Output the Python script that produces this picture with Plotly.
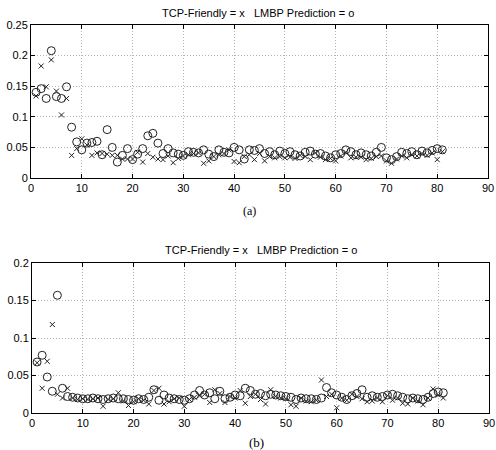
import plotly.graph_objects as go

x_idx = list(range(1, 82))

# Panel (a)
a_tcp = [0.134, 0.183, 0.149, 0.193, 0.142, 0.103, 0.130, 0.037, 0.048, 0.064,
         0.054, 0.037, 0.041, 0.040, 0.039, 0.037, 0.037, 0.031, 0.031, 0.031,
         0.042, 0.026, 0.040, 0.034, 0.031, 0.030, 0.036, 0.025, 0.032, 0.036,
         0.038, 0.040, 0.041, 0.024, 0.028, 0.035, 0.038, 0.040, 0.046, 0.027,
         0.025, 0.035, 0.038, 0.030, 0.040, 0.028, 0.035, 0.033, 0.035, 0.033,
         0.034, 0.032, 0.037, 0.035, 0.030, 0.041, 0.034, 0.030, 0.032, 0.028,
         0.036, 0.042, 0.033, 0.034, 0.034, 0.030, 0.032, 0.035, 0.036, 0.028,
         0.024, 0.031, 0.036, 0.033, 0.038, 0.036, 0.040, 0.037, 0.041, 0.030,
         0.043]
a_lmbp = [0.140, 0.146, 0.130, 0.208, 0.133, 0.130, 0.149, 0.083, 0.059, 0.046,
          0.057, 0.058, 0.060, 0.038, 0.079, 0.050, 0.026, 0.037, 0.048, 0.030,
          0.039, 0.048, 0.069, 0.073, 0.057, 0.040, 0.048, 0.041, 0.039, 0.037,
          0.043, 0.042, 0.041, 0.046, 0.039, 0.035, 0.046, 0.042, 0.041, 0.050,
          0.046, 0.031, 0.046, 0.045, 0.048, 0.040, 0.043, 0.038, 0.044, 0.040,
          0.043, 0.038, 0.036, 0.042, 0.044, 0.039, 0.040, 0.036, 0.033, 0.038,
          0.040, 0.046, 0.043, 0.038, 0.041, 0.038, 0.036, 0.042, 0.050, 0.033,
          0.030, 0.035, 0.042, 0.040, 0.043, 0.038, 0.044, 0.041, 0.045, 0.048,
          0.046]

# Panel (b)
b_tcp = [0.067, 0.033, 0.069, 0.118, 0.025, 0.020, 0.033, 0.020, 0.018, 0.019,
         0.018, 0.019, 0.020, 0.009, 0.018, 0.019, 0.027, 0.016, 0.010, 0.015,
         0.019, 0.017, 0.012, 0.030, 0.033, 0.012, 0.015, 0.019, 0.020, 0.009,
         0.018, 0.021, 0.023, 0.025, 0.014, 0.031, 0.026, 0.014, 0.022, 0.020,
         0.030, 0.013, 0.022, 0.025, 0.018, 0.012, 0.031, 0.022, 0.020, 0.019,
         0.011, 0.009, 0.020, 0.016, 0.015, 0.017, 0.044, 0.022, 0.025, 0.007,
         0.020, 0.017, 0.025, 0.022, 0.019, 0.015, 0.016, 0.020, 0.015, 0.023,
         0.017, 0.020, 0.013, 0.012, 0.020, 0.016, 0.011, 0.020, 0.032, 0.024,
         0.020]
b_lmbp = [0.068, 0.077, 0.048, 0.029, 0.157, 0.033, 0.022, 0.021, 0.020, 0.019,
          0.019, 0.020, 0.019, 0.018, 0.019, 0.020, 0.019, 0.019, 0.018, 0.017,
          0.019, 0.018, 0.021, 0.031, 0.017, 0.024, 0.020, 0.019, 0.018, 0.017,
          0.019, 0.024, 0.030, 0.024, 0.027, 0.019, 0.029, 0.019, 0.021, 0.024,
          0.023, 0.033, 0.030, 0.025, 0.026, 0.023, 0.025, 0.024, 0.023, 0.022,
          0.021, 0.018, 0.020, 0.019, 0.019, 0.018, 0.020, 0.034, 0.027, 0.024,
          0.021, 0.018, 0.023, 0.026, 0.031, 0.021, 0.023, 0.021, 0.022, 0.024,
          0.025, 0.023, 0.021, 0.019, 0.020, 0.019, 0.018, 0.021, 0.026, 0.028,
          0.027]

x_ticks = list(range(0, 91, 10))
a_yticks = [0, 0.05, 0.1, 0.15, 0.2, 0.25]
a_ylabels = ["0", "0.05", "0.1", "0.15", "0.2", "0.25"]
b_yticks = [0, 0.05, 0.1, 0.15, 0.2]
b_ylabels = ["0", "0.05", "0.1", "0.15", "0.2"]
title_text = "TCP-Friendly = x   LMBP Prediction = o"

W, H = 496, 450
ink = "#222222"

fig = go.Figure()
for xa, ya, tcp, lmbp in [("x", "y", a_tcp, a_lmbp), ("x2", "y2", b_tcp, b_lmbp)]:
    fig.add_trace(go.Scatter(x=x_idx, y=tcp, mode="markers", xaxis=xa, yaxis=ya,
                             marker=dict(symbol="x-thin-open", size=5, color=ink,
                                         line=dict(width=1, color=ink)),
                             showlegend=False))
    fig.add_trace(go.Scatter(x=x_idx, y=lmbp, mode="markers", xaxis=xa, yaxis=ya,
                             marker=dict(symbol="circle-open", size=8, color=ink,
                                         line=dict(width=1, color=ink)),
                             showlegend=False))

def px_x(p):
    return p / W

def px_y(p):
    return 1 - p / H

axis_common = dict(showline=True, linecolor="black", linewidth=1, mirror="ticks",
                   ticks="inside", ticklen=4, tickcolor="black", automargin=False,
                   ticklabeloverflow="allow",
                   showgrid=True, gridcolor="#b4b4b4", griddash="1px,2px", gridwidth=1,
                   zeroline=False, tickfont=dict(family="Liberation Sans", size=11, color="black"))

def label(text, x, y, family, size):
    return dict(text=text, x=px_x(x), y=px_y(y), xref="paper", yref="paper",
                xanchor="center", yanchor="middle", showarrow=False,
                font=dict(family=family, size=size, color="black"))

fig.update_layout(
    width=W, height=H, margin=dict(l=0, r=0, t=0, b=0, pad=0, autoexpand=False),
    paper_bgcolor="white", plot_bgcolor="white",
    xaxis=dict(domain=[px_x(31), px_x(488)], range=[0, 90], tickvals=x_ticks,
               anchor="y", **axis_common),
    yaxis=dict(domain=[px_y(178), px_y(25)], range=[0, 0.25], tickvals=a_yticks,
               ticktext=a_ylabels, anchor="x", **axis_common),
    xaxis2=dict(domain=[px_x(32), px_x(489)], range=[0, 90], tickvals=x_ticks,
                anchor="y2", **axis_common),
    yaxis2=dict(domain=[px_y(413), px_y(263)], range=[0, 0.2], tickvals=b_yticks,
                ticktext=b_ylabels, anchor="x2", **axis_common),
    annotations=[
        label(title_text, 258, 13, "Liberation Sans", 11),
        label(title_text, 261, 250, "Liberation Sans", 11),
        label("(a)", 249, 211, "Liberation Serif", 12),
        label("(b)", 256, 442, "Liberation Serif", 13),
    ],
)

# Remove the browser's default 8px page margin so the 496x450 figure fills the window.
fig.write_html("out.html", config={"displayModeBar": False},
               post_script="document.body.style.margin='0';")
